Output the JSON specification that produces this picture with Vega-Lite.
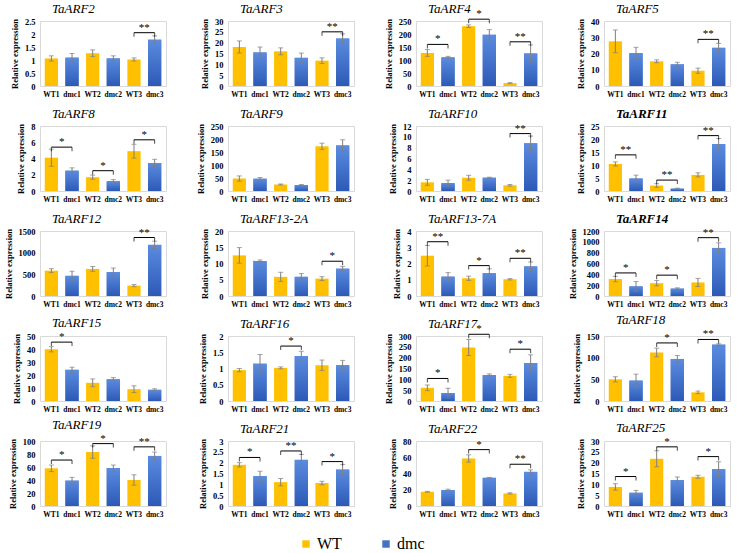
{
"$schema":"https://vega.github.io/schema/vega-lite/v6.json",
"padding":{"left":3,"top":2,"right":0,"bottom":0},
"columns":4,
"spacing":{"row":40,"column":62},
"bounds":"flush",
"data":{"values":[
{"g":"TaARF2","t":"b","s":"WT1","grp":"WT","v":1.06,"e":0.1},{"g":"TaARF2","t":"b","s":"dmc1","grp":"dmc","v":1.09,"e":0.16},{"g":"TaARF2","t":"b","s":"WT2","grp":"WT","v":1.26,"e":0.13},{"g":"TaARF2","t":"b","s":"dmc2","grp":"dmc","v":1.06,"e":0.1},{"g":"TaARF2","t":"b","s":"WT3","grp":"WT","v":1.02,"e":0.06},{"g":"TaARF2","t":"b","s":"dmc3","grp":"dmc","v":1.78,"e":0.15},
{"g":"TaARF2","t":"s","s":"WT3","s2":"dmc3","v":2.05,"lab":"**"},
{"g":"TaARF3","t":"b","s":"WT1","grp":"WT","v":18.0,"e":2.8},{"g":"TaARF3","t":"b","s":"dmc1","grp":"dmc","v":15.5,"e":2.5},{"g":"TaARF3","t":"b","s":"WT2","grp":"WT","v":16.0,"e":1.6},{"g":"TaARF3","t":"b","s":"dmc2","grp":"dmc","v":13.0,"e":2.2},{"g":"TaARF3","t":"b","s":"WT3","grp":"WT","v":11.7,"e":1.3},{"g":"TaARF3","t":"b","s":"dmc3","grp":"dmc","v":21.9,"e":2.2},
{"g":"TaARF3","t":"s","s":"WT3","s2":"dmc3","v":25,"lab":"**"},
{"g":"TaARF4","t":"b","s":"WT1","grp":"WT","v":127,"e":13},{"g":"TaARF4","t":"b","s":"dmc1","grp":"dmc","v":110,"e":4},{"g":"TaARF4","t":"b","s":"WT2","grp":"WT","v":230,"e":5},{"g":"TaARF4","t":"b","s":"dmc2","grp":"dmc","v":197,"e":20},{"g":"TaARF4","t":"b","s":"WT3","grp":"WT","v":11,"e":2},{"g":"TaARF4","t":"b","s":"dmc3","grp":"dmc","v":125,"e":33},
{"g":"TaARF4","t":"s","s":"WT1","s2":"dmc1","v":160,"lab":"*"},{"g":"TaARF4","t":"s","s":"WT2","s2":"dmc2","v":257,"lab":"*"},{"g":"TaARF4","t":"s","s":"WT3","s2":"dmc3","v":170,"lab":"**"},
{"g":"TaARF5","t":"b","s":"WT1","grp":"WT","v":27.5,"e":7},{"g":"TaARF5","t":"b","s":"dmc1","grp":"dmc","v":20.2,"e":3.6},{"g":"TaARF5","t":"b","s":"WT2","grp":"WT","v":15.2,"e":0.9},{"g":"TaARF5","t":"b","s":"dmc2","grp":"dmc","v":13.3,"e":1.3},{"g":"TaARF5","t":"b","s":"WT3","grp":"WT","v":9.4,"e":1.6},{"g":"TaARF5","t":"b","s":"dmc3","grp":"dmc","v":23.5,"e":2.7},
{"g":"TaARF5","t":"s","s":"WT3","s2":"dmc3","v":28.7,"lab":"**"},
{"g":"TaARF8","t":"b","s":"WT1","grp":"WT","v":4.1,"e":1.05},{"g":"TaARF8","t":"b","s":"dmc1","grp":"dmc","v":2.5,"e":0.35},{"g":"TaARF8","t":"b","s":"WT2","grp":"WT","v":1.7,"e":0.25},{"g":"TaARF8","t":"b","s":"dmc2","grp":"dmc","v":1.2,"e":0.2},{"g":"TaARF8","t":"b","s":"WT3","grp":"WT","v":4.9,"e":0.85},{"g":"TaARF8","t":"b","s":"dmc3","grp":"dmc","v":3.45,"e":0.45},
{"g":"TaARF8","t":"s","s":"WT1","s2":"dmc1","v":5.4,"lab":"*"},{"g":"TaARF8","t":"s","s":"WT2","s2":"dmc2","v":2.5,"lab":"*"},{"g":"TaARF8","t":"s","s":"WT3","s2":"dmc3","v":6.3,"lab":"*"},
{"g":"TaARF9","t":"b","s":"WT1","grp":"WT","v":48,"e":10},{"g":"TaARF9","t":"b","s":"dmc1","grp":"dmc","v":47,"e":5},{"g":"TaARF9","t":"b","s":"WT2","grp":"WT","v":25,"e":2},{"g":"TaARF9","t":"b","s":"dmc2","grp":"dmc","v":23,"e":2},{"g":"TaARF9","t":"b","s":"WT3","grp":"WT","v":172,"e":12},{"g":"TaARF9","t":"b","s":"dmc3","grp":"dmc","v":175,"e":22},
{"g":"TaARF10","t":"b","s":"WT1","grp":"WT","v":1.6,"e":0.55},{"g":"TaARF10","t":"b","s":"dmc1","grp":"dmc","v":1.45,"e":0.55},{"g":"TaARF10","t":"b","s":"WT2","grp":"WT","v":2.45,"e":0.45},{"g":"TaARF10","t":"b","s":"dmc2","grp":"dmc","v":2.45,"e":0.1},{"g":"TaARF10","t":"b","s":"WT3","grp":"WT","v":1.05,"e":0.15},{"g":"TaARF10","t":"b","s":"dmc3","grp":"dmc","v":8.8,"e":1.35},
{"g":"TaARF10","t":"s","s":"WT3","s2":"dmc3","v":10.6,"lab":"**"},
{"g":"TaARF11","t":"b","s":"WT1","grp":"WT","v":10.4,"e":0.8},{"g":"TaARF11","t":"b","s":"dmc1","grp":"dmc","v":4.8,"e":1.3},{"g":"TaARF11","t":"b","s":"WT2","grp":"WT","v":2.1,"e":0.7},{"g":"TaARF11","t":"b","s":"dmc2","grp":"dmc","v":0.9,"e":0.2},{"g":"TaARF11","t":"b","s":"WT3","grp":"WT","v":6.2,"e":0.8},{"g":"TaARF11","t":"b","s":"dmc3","grp":"dmc","v":18.0,"e":2.2},
{"g":"TaARF11","t":"s","s":"WT1","s2":"dmc1","v":13.9,"lab":"**"},{"g":"TaARF11","t":"s","s":"WT2","s2":"dmc2","v":4.2,"lab":"**"},{"g":"TaARF11","t":"s","s":"WT3","s2":"dmc3","v":21.3,"lab":"**"},
{"g":"TaARF12","t":"b","s":"WT1","grp":"WT","v":585,"e":45},{"g":"TaARF12","t":"b","s":"dmc1","grp":"dmc","v":465,"e":105},{"g":"TaARF12","t":"b","s":"WT2","grp":"WT","v":625,"e":55},{"g":"TaARF12","t":"b","s":"dmc2","grp":"dmc","v":550,"e":95},{"g":"TaARF12","t":"b","s":"WT3","grp":"WT","v":240,"e":25},{"g":"TaARF12","t":"b","s":"dmc3","grp":"dmc","v":1180,"e":85},
{"g":"TaARF12","t":"s","s":"WT3","s2":"dmc3","v":1350,"lab":"**"},
{"g":"TaARF13-2A","t":"b","s":"WT1","grp":"WT","v":12.5,"e":2.4},{"g":"TaARF13-2A","t":"b","s":"dmc1","grp":"dmc","v":10.8,"e":0.3},{"g":"TaARF13-2A","t":"b","s":"WT2","grp":"WT","v":5.9,"e":1.4},{"g":"TaARF13-2A","t":"b","s":"dmc2","grp":"dmc","v":5.9,"e":1.0},{"g":"TaARF13-2A","t":"b","s":"WT3","grp":"WT","v":5.35,"e":0.6},{"g":"TaARF13-2A","t":"b","s":"dmc3","grp":"dmc","v":8.4,"e":0.7},
{"g":"TaARF13-2A","t":"s","s":"WT3","s2":"dmc3","v":10.7,"lab":"*"},
{"g":"TaARF13-7A","t":"b","s":"WT1","grp":"WT","v":2.48,"e":0.63},{"g":"TaARF13-7A","t":"b","s":"dmc1","grp":"dmc","v":1.19,"e":0.25},{"g":"TaARF13-7A","t":"b","s":"WT2","grp":"WT","v":1.09,"e":0.13},{"g":"TaARF13-7A","t":"b","s":"dmc2","grp":"dmc","v":1.4,"e":0.27},{"g":"TaARF13-7A","t":"b","s":"WT3","grp":"WT","v":1.03,"e":0.04},{"g":"TaARF13-7A","t":"b","s":"dmc3","grp":"dmc","v":1.82,"e":0.27},
{"g":"TaARF13-7A","t":"s","s":"WT1","s2":"dmc1","v":3.34,"lab":"**"},{"g":"TaARF13-7A","t":"s","s":"WT2","s2":"dmc2","v":1.87,"lab":"*"},{"g":"TaARF13-7A","t":"s","s":"WT3","s2":"dmc3","v":2.32,"lab":"**"},
{"g":"TaARF14","t":"b","s":"WT1","grp":"WT","v":313,"e":50},{"g":"TaARF14","t":"b","s":"dmc1","grp":"dmc","v":177,"e":90},{"g":"TaARF14","t":"b","s":"WT2","grp":"WT","v":237,"e":50},{"g":"TaARF14","t":"b","s":"dmc2","grp":"dmc","v":136,"e":15},{"g":"TaARF14","t":"b","s":"WT3","grp":"WT","v":250,"e":75},{"g":"TaARF14","t":"b","s":"dmc3","grp":"dmc","v":887,"e":95},
{"g":"TaARF14","t":"s","s":"WT1","s2":"dmc1","v":426,"lab":"*"},{"g":"TaARF14","t":"s","s":"WT2","s2":"dmc2","v":385,"lab":"*"},{"g":"TaARF14","t":"s","s":"WT3","s2":"dmc3","v":1077,"lab":"**"},
{"g":"TaARF15","t":"b","s":"WT1","grp":"WT","v":39.8,"e":2},{"g":"TaARF15","t":"b","s":"dmc1","grp":"dmc","v":24,"e":2},{"g":"TaARF15","t":"b","s":"WT2","grp":"WT","v":14,"e":3},{"g":"TaARF15","t":"b","s":"dmc2","grp":"dmc","v":16.7,"e":1.3},{"g":"TaARF15","t":"b","s":"WT3","grp":"WT","v":9.1,"e":2.6},{"g":"TaARF15","t":"b","s":"dmc3","grp":"dmc","v":8.6,"e":0.8},
{"g":"TaARF15","t":"s","s":"WT1","s2":"dmc1","v":45.3,"lab":"*"},
{"g":"TaARF16","t":"b","s":"WT1","grp":"WT","v":0.95,"e":0.05},{"g":"TaARF16","t":"b","s":"dmc1","grp":"dmc","v":1.15,"e":0.28},{"g":"TaARF16","t":"b","s":"WT2","grp":"WT","v":1.02,"e":0.03},{"g":"TaARF16","t":"b","s":"dmc2","grp":"dmc","v":1.38,"e":0.15},{"g":"TaARF16","t":"b","s":"WT3","grp":"WT","v":1.1,"e":0.16},{"g":"TaARF16","t":"b","s":"dmc3","grp":"dmc","v":1.1,"e":0.15},
{"g":"TaARF16","t":"s","s":"WT2","s2":"dmc2","v":1.69,"lab":"*"},
{"g":"TaARF17","t":"b","s":"WT1","grp":"WT","v":61,"e":13},{"g":"TaARF17","t":"b","s":"dmc1","grp":"dmc","v":37,"e":22},{"g":"TaARF17","t":"b","s":"WT2","grp":"WT","v":247,"e":37},{"g":"TaARF17","t":"b","s":"dmc2","grp":"dmc","v":120,"e":5},{"g":"TaARF17","t":"b","s":"WT3","grp":"WT","v":116,"e":7},{"g":"TaARF17","t":"b","s":"dmc3","grp":"dmc","v":175,"e":38},
{"g":"TaARF17","t":"s","s":"WT1","s2":"dmc1","v":104,"lab":"*"},{"g":"TaARF17","t":"s","s":"WT2","s2":"dmc2","v":308,"lab":"*"},{"g":"TaARF17","t":"s","s":"WT3","s2":"dmc3","v":239,"lab":"*"},
{"g":"TaARF18","t":"b","s":"WT1","grp":"WT","v":50,"e":6},{"g":"TaARF18","t":"b","s":"dmc1","grp":"dmc","v":47,"e":15},{"g":"TaARF18","t":"b","s":"WT2","grp":"WT","v":112,"e":10},{"g":"TaARF18","t":"b","s":"dmc2","grp":"dmc","v":97,"e":8},{"g":"TaARF18","t":"b","s":"WT3","grp":"WT","v":20,"e":3},{"g":"TaARF18","t":"b","s":"dmc3","grp":"dmc","v":130,"e":2},
{"g":"TaARF18","t":"s","s":"WT2","s2":"dmc2","v":134,"lab":"*"},{"g":"TaARF18","t":"s","s":"WT3","s2":"dmc3","v":142,"lab":"**"},
{"g":"TaARF19","t":"b","s":"WT1","grp":"WT","v":58,"e":5},{"g":"TaARF19","t":"b","s":"dmc1","grp":"dmc","v":39,"e":5},{"g":"TaARF19","t":"b","s":"WT2","grp":"WT","v":83,"e":9.5},{"g":"TaARF19","t":"b","s":"dmc2","grp":"dmc","v":58.5,"e":4.5},{"g":"TaARF19","t":"b","s":"WT3","grp":"WT","v":40,"e":8},{"g":"TaARF19","t":"b","s":"dmc3","grp":"dmc","v":77,"e":6},
{"g":"TaARF19","t":"s","s":"WT1","s2":"dmc1","v":70.7,"lab":"*"},{"g":"TaARF19","t":"s","s":"WT2","s2":"dmc2","v":96,"lab":"*"},{"g":"TaARF19","t":"s","s":"WT3","s2":"dmc3","v":91,"lab":"**"},
{"g":"TaARF21","t":"b","s":"WT1","grp":"WT","v":1.9,"e":0.1},{"g":"TaARF21","t":"b","s":"dmc1","grp":"dmc","v":1.38,"e":0.22},{"g":"TaARF21","t":"b","s":"WT2","grp":"WT","v":1.1,"e":0.17},{"g":"TaARF21","t":"b","s":"dmc2","grp":"dmc","v":2.13,"e":0.25},{"g":"TaARF21","t":"b","s":"WT3","grp":"WT","v":1.06,"e":0.08},{"g":"TaARF21","t":"b","s":"dmc3","grp":"dmc","v":1.68,"e":0.24},
{"g":"TaARF21","t":"s","s":"WT1","s2":"dmc1","v":2.24,"lab":"*"},{"g":"TaARF21","t":"s","s":"WT2","s2":"dmc2","v":2.54,"lab":"**"},{"g":"TaARF21","t":"s","s":"WT3","s2":"dmc3","v":2.05,"lab":"*"},
{"g":"TaARF22","t":"b","s":"WT1","grp":"WT","v":17.5,"e":0.5},{"g":"TaARF22","t":"b","s":"dmc1","grp":"dmc","v":19.7,"e":1},{"g":"TaARF22","t":"b","s":"WT2","grp":"WT","v":58.5,"e":4.5},{"g":"TaARF22","t":"b","s":"dmc2","grp":"dmc","v":34.7,"e":0.5},{"g":"TaARF22","t":"b","s":"WT3","grp":"WT","v":15.5,"e":0.8},{"g":"TaARF22","t":"b","s":"dmc3","grp":"dmc","v":42,"e":2.5},
{"g":"TaARF22","t":"s","s":"WT2","s2":"dmc2","v":69.4,"lab":"*"},{"g":"TaARF22","t":"s","s":"WT3","s2":"dmc3","v":51.4,"lab":"**"},
{"g":"TaARF25","t":"b","s":"WT1","grp":"WT","v":8.8,"e":1.5},{"g":"TaARF25","t":"b","s":"dmc1","grp":"dmc","v":6.1,"e":1.1},{"g":"TaARF25","t":"b","s":"WT2","grp":"WT","v":21.8,"e":3.7},{"g":"TaARF25","t":"b","s":"dmc2","grp":"dmc","v":12,"e":1.4},{"g":"TaARF25","t":"b","s":"WT3","grp":"WT","v":13.5,"e":0.7},{"g":"TaARF25","t":"b","s":"dmc3","grp":"dmc","v":17,"e":3.4},
{"g":"TaARF25","t":"s","s":"WT1","s2":"dmc1","v":13.6,"lab":"*"},{"g":"TaARF25","t":"s","s":"WT2","s2":"dmc2","v":27.3,"lab":"*"},{"g":"TaARF25","t":"s","s":"WT3","s2":"dmc3","v":22.8,"lab":"*"}
]},
"concat":[
{"title":{"text":"TaARF2"},"transform":[{"filter":"datum.g=='TaARF2'"}],"encoding":{"x":{"field":"s","type":"nominal","scale":{"domain":["WT1","dmc1","WT2","dmc2","WT3","dmc3"],"paddingInner":0,"paddingOuter":0.05},"axis":{"title":null}},"y":{"field":"v","type":"quantitative","scale":{"domain":[0,2.5],"nice":false},"axis":{"title":"Relative expression","values":[0,0.5,1,1.5,2,2.5]}}},
"layer":[{"transform":[{"filter":"datum.t=='b'"}],"mark":{"type":"bar","width":{"band":0.64}},"encoding":{"color":{"field":"grp","type":"nominal","scale":{"domain":["WT","dmc"],"range":["#FFC000","#4472C4"]},"title":null}}},{"transform":[{"filter":"datum.grp=='dmc'"}],"mark":{"type":"bar","width":{"band":0.64},"color":{"gradient":"linear","x1":0,"y1":0,"x2":0,"y2":1,"stops":[{"offset":0,"color":"#5B8CE0"},{"offset":1,"color":"#2C59B6"}]}}},{"transform":[{"filter":"datum.t=='b'"}],"mark":{"type":"errorbar","color":"#7F7F7F","ticks":{"size":5,"color":"#7F7F7F"}},"encoding":{"yError":{"field":"e"}}},{"transform":[{"filter":"datum.t=='s'"}],"mark":{"type":"rule","color":"#000"},"encoding":{"x2":{"field":"s2"}}},{"transform":[{"filter":"datum.t=='s'"},{"fold":["s","s2"],"as":["k","sx"]}],"mark":{"type":"tick","orient":"vertical","size":4,"thickness":1,"yOffset":2,"color":"#000"},"encoding":{"x":{"field":"sx","type":"nominal"}}},{"transform":[{"filter":"datum.t=='s'"}],"mark":{"type":"text","dy":-5,"fontSize":11,"font":"Liberation Serif","fill":"#000","color":"#000"},"encoding":{"x":{"field":"s","type":"nominal","bandPosition":1},"text":{"field":"lab"}}}]},
{"title":{"text":"TaARF3"},"transform":[{"filter":"datum.g=='TaARF3'"}],"encoding":{"x":{"field":"s","type":"nominal","scale":{"domain":["WT1","dmc1","WT2","dmc2","WT3","dmc3"],"paddingInner":0,"paddingOuter":0.05},"axis":{"title":null}},"y":{"field":"v","type":"quantitative","scale":{"domain":[0,30],"nice":false},"axis":{"title":"Relative expression","values":[0,5,10,15,20,25,30]}}},
"layer":[{"transform":[{"filter":"datum.t=='b'"}],"mark":{"type":"bar","width":{"band":0.64}},"encoding":{"color":{"field":"grp","type":"nominal","scale":{"domain":["WT","dmc"],"range":["#FFC000","#4472C4"]},"title":null}}},{"transform":[{"filter":"datum.grp=='dmc'"}],"mark":{"type":"bar","width":{"band":0.64},"color":{"gradient":"linear","x1":0,"y1":0,"x2":0,"y2":1,"stops":[{"offset":0,"color":"#5B8CE0"},{"offset":1,"color":"#2C59B6"}]}}},{"transform":[{"filter":"datum.t=='b'"}],"mark":{"type":"errorbar","color":"#7F7F7F","ticks":{"size":5,"color":"#7F7F7F"}},"encoding":{"yError":{"field":"e"}}},{"transform":[{"filter":"datum.t=='s'"}],"mark":{"type":"rule","color":"#000"},"encoding":{"x2":{"field":"s2"}}},{"transform":[{"filter":"datum.t=='s'"},{"fold":["s","s2"],"as":["k","sx"]}],"mark":{"type":"tick","orient":"vertical","size":4,"thickness":1,"yOffset":2,"color":"#000"},"encoding":{"x":{"field":"sx","type":"nominal"}}},{"transform":[{"filter":"datum.t=='s'"}],"mark":{"type":"text","dy":-5,"fontSize":11,"font":"Liberation Serif","fill":"#000","color":"#000"},"encoding":{"x":{"field":"s","type":"nominal","bandPosition":1},"text":{"field":"lab"}}}]},
{"title":{"text":"TaARF4","offset":-8},"transform":[{"filter":"datum.g=='TaARF4'"}],"encoding":{"x":{"field":"s","type":"nominal","scale":{"domain":["WT1","dmc1","WT2","dmc2","WT3","dmc3"],"paddingInner":0,"paddingOuter":0.05},"axis":{"title":null}},"y":{"field":"v","type":"quantitative","scale":{"domain":[0,250],"nice":false},"axis":{"title":"Relative expression","values":[0,50,100,150,200,250]}}},
"layer":[{"transform":[{"filter":"datum.t=='b'"}],"mark":{"type":"bar","width":{"band":0.64}},"encoding":{"color":{"field":"grp","type":"nominal","scale":{"domain":["WT","dmc"],"range":["#FFC000","#4472C4"]},"title":null}}},{"transform":[{"filter":"datum.grp=='dmc'"}],"mark":{"type":"bar","width":{"band":0.64},"color":{"gradient":"linear","x1":0,"y1":0,"x2":0,"y2":1,"stops":[{"offset":0,"color":"#5B8CE0"},{"offset":1,"color":"#2C59B6"}]}}},{"transform":[{"filter":"datum.t=='b'"}],"mark":{"type":"errorbar","color":"#7F7F7F","ticks":{"size":5,"color":"#7F7F7F"}},"encoding":{"yError":{"field":"e"}}},{"transform":[{"filter":"datum.t=='s'"}],"mark":{"type":"rule","color":"#000"},"encoding":{"x2":{"field":"s2"}}},{"transform":[{"filter":"datum.t=='s'"},{"fold":["s","s2"],"as":["k","sx"]}],"mark":{"type":"tick","orient":"vertical","size":4,"thickness":1,"yOffset":2,"color":"#000"},"encoding":{"x":{"field":"sx","type":"nominal"}}},{"transform":[{"filter":"datum.t=='s'"}],"mark":{"type":"text","dy":-5,"fontSize":11,"font":"Liberation Serif","fill":"#000","color":"#000"},"encoding":{"x":{"field":"s","type":"nominal","bandPosition":1},"text":{"field":"lab"}}}]},
{"title":{"text":"TaARF5"},"transform":[{"filter":"datum.g=='TaARF5'"}],"encoding":{"x":{"field":"s","type":"nominal","scale":{"domain":["WT1","dmc1","WT2","dmc2","WT3","dmc3"],"paddingInner":0,"paddingOuter":0.05},"axis":{"title":null}},"y":{"field":"v","type":"quantitative","scale":{"domain":[0,40],"nice":false},"axis":{"title":"Relative expression","values":[0,10,20,30,40]}}},
"layer":[{"transform":[{"filter":"datum.t=='b'"}],"mark":{"type":"bar","width":{"band":0.64}},"encoding":{"color":{"field":"grp","type":"nominal","scale":{"domain":["WT","dmc"],"range":["#FFC000","#4472C4"]},"title":null}}},{"transform":[{"filter":"datum.grp=='dmc'"}],"mark":{"type":"bar","width":{"band":0.64},"color":{"gradient":"linear","x1":0,"y1":0,"x2":0,"y2":1,"stops":[{"offset":0,"color":"#5B8CE0"},{"offset":1,"color":"#2C59B6"}]}}},{"transform":[{"filter":"datum.t=='b'"}],"mark":{"type":"errorbar","color":"#7F7F7F","ticks":{"size":5,"color":"#7F7F7F"}},"encoding":{"yError":{"field":"e"}}},{"transform":[{"filter":"datum.t=='s'"}],"mark":{"type":"rule","color":"#000"},"encoding":{"x2":{"field":"s2"}}},{"transform":[{"filter":"datum.t=='s'"},{"fold":["s","s2"],"as":["k","sx"]}],"mark":{"type":"tick","orient":"vertical","size":4,"thickness":1,"yOffset":2,"color":"#000"},"encoding":{"x":{"field":"sx","type":"nominal"}}},{"transform":[{"filter":"datum.t=='s'"}],"mark":{"type":"text","dy":-5,"fontSize":11,"font":"Liberation Serif","fill":"#000","color":"#000"},"encoding":{"x":{"field":"s","type":"nominal","bandPosition":1},"text":{"field":"lab"}}}]},
{"title":{"text":"TaARF8"},"transform":[{"filter":"datum.g=='TaARF8'"}],"encoding":{"x":{"field":"s","type":"nominal","scale":{"domain":["WT1","dmc1","WT2","dmc2","WT3","dmc3"],"paddingInner":0,"paddingOuter":0.05},"axis":{"title":null}},"y":{"field":"v","type":"quantitative","scale":{"domain":[0,8],"nice":false},"axis":{"title":"Relative expression","values":[0,2,4,6,8]}}},
"layer":[{"transform":[{"filter":"datum.t=='b'"}],"mark":{"type":"bar","width":{"band":0.64}},"encoding":{"color":{"field":"grp","type":"nominal","scale":{"domain":["WT","dmc"],"range":["#FFC000","#4472C4"]},"title":null}}},{"transform":[{"filter":"datum.grp=='dmc'"}],"mark":{"type":"bar","width":{"band":0.64},"color":{"gradient":"linear","x1":0,"y1":0,"x2":0,"y2":1,"stops":[{"offset":0,"color":"#5B8CE0"},{"offset":1,"color":"#2C59B6"}]}}},{"transform":[{"filter":"datum.t=='b'"}],"mark":{"type":"errorbar","color":"#7F7F7F","ticks":{"size":5,"color":"#7F7F7F"}},"encoding":{"yError":{"field":"e"}}},{"transform":[{"filter":"datum.t=='s'"}],"mark":{"type":"rule","color":"#000"},"encoding":{"x2":{"field":"s2"}}},{"transform":[{"filter":"datum.t=='s'"},{"fold":["s","s2"],"as":["k","sx"]}],"mark":{"type":"tick","orient":"vertical","size":4,"thickness":1,"yOffset":2,"color":"#000"},"encoding":{"x":{"field":"sx","type":"nominal"}}},{"transform":[{"filter":"datum.t=='s'"}],"mark":{"type":"text","dy":-5,"fontSize":11,"font":"Liberation Serif","fill":"#000","color":"#000"},"encoding":{"x":{"field":"s","type":"nominal","bandPosition":1},"text":{"field":"lab"}}}]},
{"title":{"text":"TaARF9"},"transform":[{"filter":"datum.g=='TaARF9'"}],"encoding":{"x":{"field":"s","type":"nominal","scale":{"domain":["WT1","dmc1","WT2","dmc2","WT3","dmc3"],"paddingInner":0,"paddingOuter":0.05},"axis":{"title":null}},"y":{"field":"v","type":"quantitative","scale":{"domain":[0,250],"nice":false},"axis":{"title":"Relative expression","values":[0,50,100,150,200,250]}}},
"layer":[{"transform":[{"filter":"datum.t=='b'"}],"mark":{"type":"bar","width":{"band":0.64}},"encoding":{"color":{"field":"grp","type":"nominal","scale":{"domain":["WT","dmc"],"range":["#FFC000","#4472C4"]},"title":null}}},{"transform":[{"filter":"datum.grp=='dmc'"}],"mark":{"type":"bar","width":{"band":0.64},"color":{"gradient":"linear","x1":0,"y1":0,"x2":0,"y2":1,"stops":[{"offset":0,"color":"#5B8CE0"},{"offset":1,"color":"#2C59B6"}]}}},{"transform":[{"filter":"datum.t=='b'"}],"mark":{"type":"errorbar","color":"#7F7F7F","ticks":{"size":5,"color":"#7F7F7F"}},"encoding":{"yError":{"field":"e"}}}]},
{"title":{"text":"TaARF10"},"transform":[{"filter":"datum.g=='TaARF10'"}],"encoding":{"x":{"field":"s","type":"nominal","scale":{"domain":["WT1","dmc1","WT2","dmc2","WT3","dmc3"],"paddingInner":0,"paddingOuter":0.05},"axis":{"title":null}},"y":{"field":"v","type":"quantitative","scale":{"domain":[0,12],"nice":false},"axis":{"title":"Relative expression","values":[0,2,4,6,8,10,12]}}},
"layer":[{"transform":[{"filter":"datum.t=='b'"}],"mark":{"type":"bar","width":{"band":0.64}},"encoding":{"color":{"field":"grp","type":"nominal","scale":{"domain":["WT","dmc"],"range":["#FFC000","#4472C4"]},"title":null}}},{"transform":[{"filter":"datum.grp=='dmc'"}],"mark":{"type":"bar","width":{"band":0.64},"color":{"gradient":"linear","x1":0,"y1":0,"x2":0,"y2":1,"stops":[{"offset":0,"color":"#5B8CE0"},{"offset":1,"color":"#2C59B6"}]}}},{"transform":[{"filter":"datum.t=='b'"}],"mark":{"type":"errorbar","color":"#7F7F7F","ticks":{"size":5,"color":"#7F7F7F"}},"encoding":{"yError":{"field":"e"}}},{"transform":[{"filter":"datum.t=='s'"}],"mark":{"type":"rule","color":"#000"},"encoding":{"x2":{"field":"s2"}}},{"transform":[{"filter":"datum.t=='s'"},{"fold":["s","s2"],"as":["k","sx"]}],"mark":{"type":"tick","orient":"vertical","size":4,"thickness":1,"yOffset":2,"color":"#000"},"encoding":{"x":{"field":"sx","type":"nominal"}}},{"transform":[{"filter":"datum.t=='s'"}],"mark":{"type":"text","dy":-5,"fontSize":11,"font":"Liberation Serif","fill":"#000","color":"#000"},"encoding":{"x":{"field":"s","type":"nominal","bandPosition":1},"text":{"field":"lab"}}}]},
{"title":{"text":"TaARF11","fontWeight":"bold"},"transform":[{"filter":"datum.g=='TaARF11'"}],"encoding":{"x":{"field":"s","type":"nominal","scale":{"domain":["WT1","dmc1","WT2","dmc2","WT3","dmc3"],"paddingInner":0,"paddingOuter":0.05},"axis":{"title":null}},"y":{"field":"v","type":"quantitative","scale":{"domain":[0,25],"nice":false},"axis":{"title":"Relative expression","values":[0,5,10,15,20,25]}}},
"layer":[{"transform":[{"filter":"datum.t=='b'"}],"mark":{"type":"bar","width":{"band":0.64}},"encoding":{"color":{"field":"grp","type":"nominal","scale":{"domain":["WT","dmc"],"range":["#FFC000","#4472C4"]},"title":null}}},{"transform":[{"filter":"datum.grp=='dmc'"}],"mark":{"type":"bar","width":{"band":0.64},"color":{"gradient":"linear","x1":0,"y1":0,"x2":0,"y2":1,"stops":[{"offset":0,"color":"#5B8CE0"},{"offset":1,"color":"#2C59B6"}]}}},{"transform":[{"filter":"datum.t=='b'"}],"mark":{"type":"errorbar","color":"#7F7F7F","ticks":{"size":5,"color":"#7F7F7F"}},"encoding":{"yError":{"field":"e"}}},{"transform":[{"filter":"datum.t=='s'"}],"mark":{"type":"rule","color":"#000"},"encoding":{"x2":{"field":"s2"}}},{"transform":[{"filter":"datum.t=='s'"},{"fold":["s","s2"],"as":["k","sx"]}],"mark":{"type":"tick","orient":"vertical","size":4,"thickness":1,"yOffset":2,"color":"#000"},"encoding":{"x":{"field":"sx","type":"nominal"}}},{"transform":[{"filter":"datum.t=='s'"}],"mark":{"type":"text","dy":-5,"fontSize":11,"font":"Liberation Serif","fill":"#000","color":"#000"},"encoding":{"x":{"field":"s","type":"nominal","bandPosition":1},"text":{"field":"lab"}}}]},
{"title":{"text":"TaARF12"},"transform":[{"filter":"datum.g=='TaARF12'"}],"encoding":{"x":{"field":"s","type":"nominal","scale":{"domain":["WT1","dmc1","WT2","dmc2","WT3","dmc3"],"paddingInner":0,"paddingOuter":0.05},"axis":{"title":null}},"y":{"field":"v","type":"quantitative","scale":{"domain":[0,1500],"nice":false},"axis":{"title":"Relative expression","values":[0,500,1000,1500]}}},
"layer":[{"transform":[{"filter":"datum.t=='b'"}],"mark":{"type":"bar","width":{"band":0.64}},"encoding":{"color":{"field":"grp","type":"nominal","scale":{"domain":["WT","dmc"],"range":["#FFC000","#4472C4"]},"title":null}}},{"transform":[{"filter":"datum.grp=='dmc'"}],"mark":{"type":"bar","width":{"band":0.64},"color":{"gradient":"linear","x1":0,"y1":0,"x2":0,"y2":1,"stops":[{"offset":0,"color":"#5B8CE0"},{"offset":1,"color":"#2C59B6"}]}}},{"transform":[{"filter":"datum.t=='b'"}],"mark":{"type":"errorbar","color":"#7F7F7F","ticks":{"size":5,"color":"#7F7F7F"}},"encoding":{"yError":{"field":"e"}}},{"transform":[{"filter":"datum.t=='s'"}],"mark":{"type":"rule","color":"#000"},"encoding":{"x2":{"field":"s2"}}},{"transform":[{"filter":"datum.t=='s'"},{"fold":["s","s2"],"as":["k","sx"]}],"mark":{"type":"tick","orient":"vertical","size":4,"thickness":1,"yOffset":2,"color":"#000"},"encoding":{"x":{"field":"sx","type":"nominal"}}},{"transform":[{"filter":"datum.t=='s'"}],"mark":{"type":"text","dy":-5,"fontSize":11,"font":"Liberation Serif","fill":"#000","color":"#000"},"encoding":{"x":{"field":"s","type":"nominal","bandPosition":1},"text":{"field":"lab"}}}]},
{"title":{"text":"TaARF13-2A"},"transform":[{"filter":"datum.g=='TaARF13-2A'"}],"encoding":{"x":{"field":"s","type":"nominal","scale":{"domain":["WT1","dmc1","WT2","dmc2","WT3","dmc3"],"paddingInner":0,"paddingOuter":0.05},"axis":{"title":null}},"y":{"field":"v","type":"quantitative","scale":{"domain":[0,20],"nice":false},"axis":{"title":"Relative expression","values":[0,5,10,15,20]}}},
"layer":[{"transform":[{"filter":"datum.t=='b'"}],"mark":{"type":"bar","width":{"band":0.64}},"encoding":{"color":{"field":"grp","type":"nominal","scale":{"domain":["WT","dmc"],"range":["#FFC000","#4472C4"]},"title":null}}},{"transform":[{"filter":"datum.grp=='dmc'"}],"mark":{"type":"bar","width":{"band":0.64},"color":{"gradient":"linear","x1":0,"y1":0,"x2":0,"y2":1,"stops":[{"offset":0,"color":"#5B8CE0"},{"offset":1,"color":"#2C59B6"}]}}},{"transform":[{"filter":"datum.t=='b'"}],"mark":{"type":"errorbar","color":"#7F7F7F","ticks":{"size":5,"color":"#7F7F7F"}},"encoding":{"yError":{"field":"e"}}},{"transform":[{"filter":"datum.t=='s'"}],"mark":{"type":"rule","color":"#000"},"encoding":{"x2":{"field":"s2"}}},{"transform":[{"filter":"datum.t=='s'"},{"fold":["s","s2"],"as":["k","sx"]}],"mark":{"type":"tick","orient":"vertical","size":4,"thickness":1,"yOffset":2,"color":"#000"},"encoding":{"x":{"field":"sx","type":"nominal"}}},{"transform":[{"filter":"datum.t=='s'"}],"mark":{"type":"text","dy":-5,"fontSize":11,"font":"Liberation Serif","fill":"#000","color":"#000"},"encoding":{"x":{"field":"s","type":"nominal","bandPosition":1},"text":{"field":"lab"}}}]},
{"title":{"text":"TaARF13-7A"},"transform":[{"filter":"datum.g=='TaARF13-7A'"}],"encoding":{"x":{"field":"s","type":"nominal","scale":{"domain":["WT1","dmc1","WT2","dmc2","WT3","dmc3"],"paddingInner":0,"paddingOuter":0.05},"axis":{"title":null}},"y":{"field":"v","type":"quantitative","scale":{"domain":[0,4],"nice":false},"axis":{"title":"Relative expression","values":[0,1,2,3,4]}}},
"layer":[{"transform":[{"filter":"datum.t=='b'"}],"mark":{"type":"bar","width":{"band":0.64}},"encoding":{"color":{"field":"grp","type":"nominal","scale":{"domain":["WT","dmc"],"range":["#FFC000","#4472C4"]},"title":null}}},{"transform":[{"filter":"datum.grp=='dmc'"}],"mark":{"type":"bar","width":{"band":0.64},"color":{"gradient":"linear","x1":0,"y1":0,"x2":0,"y2":1,"stops":[{"offset":0,"color":"#5B8CE0"},{"offset":1,"color":"#2C59B6"}]}}},{"transform":[{"filter":"datum.t=='b'"}],"mark":{"type":"errorbar","color":"#7F7F7F","ticks":{"size":5,"color":"#7F7F7F"}},"encoding":{"yError":{"field":"e"}}},{"transform":[{"filter":"datum.t=='s'"}],"mark":{"type":"rule","color":"#000"},"encoding":{"x2":{"field":"s2"}}},{"transform":[{"filter":"datum.t=='s'"},{"fold":["s","s2"],"as":["k","sx"]}],"mark":{"type":"tick","orient":"vertical","size":4,"thickness":1,"yOffset":2,"color":"#000"},"encoding":{"x":{"field":"sx","type":"nominal"}}},{"transform":[{"filter":"datum.t=='s'"}],"mark":{"type":"text","dy":-5,"fontSize":11,"font":"Liberation Serif","fill":"#000","color":"#000"},"encoding":{"x":{"field":"s","type":"nominal","bandPosition":1},"text":{"field":"lab"}}}]},
{"title":{"text":"TaARF14","fontWeight":"bold"},"transform":[{"filter":"datum.g=='TaARF14'"}],"encoding":{"x":{"field":"s","type":"nominal","scale":{"domain":["WT1","dmc1","WT2","dmc2","WT3","dmc3"],"paddingInner":0,"paddingOuter":0.05},"axis":{"title":null}},"y":{"field":"v","type":"quantitative","scale":{"domain":[0,1200],"nice":false},"axis":{"title":"Relative expression","values":[0,200,400,600,800,1000,1200]}}},
"layer":[{"transform":[{"filter":"datum.t=='b'"}],"mark":{"type":"bar","width":{"band":0.64}},"encoding":{"color":{"field":"grp","type":"nominal","scale":{"domain":["WT","dmc"],"range":["#FFC000","#4472C4"]},"title":null}}},{"transform":[{"filter":"datum.grp=='dmc'"}],"mark":{"type":"bar","width":{"band":0.64},"color":{"gradient":"linear","x1":0,"y1":0,"x2":0,"y2":1,"stops":[{"offset":0,"color":"#5B8CE0"},{"offset":1,"color":"#2C59B6"}]}}},{"transform":[{"filter":"datum.t=='b'"}],"mark":{"type":"errorbar","color":"#7F7F7F","ticks":{"size":5,"color":"#7F7F7F"}},"encoding":{"yError":{"field":"e"}}},{"transform":[{"filter":"datum.t=='s'"}],"mark":{"type":"rule","color":"#000"},"encoding":{"x2":{"field":"s2"}}},{"transform":[{"filter":"datum.t=='s'"},{"fold":["s","s2"],"as":["k","sx"]}],"mark":{"type":"tick","orient":"vertical","size":4,"thickness":1,"yOffset":2,"color":"#000"},"encoding":{"x":{"field":"sx","type":"nominal"}}},{"transform":[{"filter":"datum.t=='s'"}],"mark":{"type":"text","dy":-5,"fontSize":11,"font":"Liberation Serif","fill":"#000","color":"#000"},"encoding":{"x":{"field":"s","type":"nominal","bandPosition":1},"text":{"field":"lab"}}}]},
{"title":{"text":"TaARF15"},"transform":[{"filter":"datum.g=='TaARF15'"}],"encoding":{"x":{"field":"s","type":"nominal","scale":{"domain":["WT1","dmc1","WT2","dmc2","WT3","dmc3"],"paddingInner":0,"paddingOuter":0.05},"axis":{"title":null}},"y":{"field":"v","type":"quantitative","scale":{"domain":[0,50],"nice":false},"axis":{"title":"Relative expression","values":[0,10,20,30,40,50]}}},
"layer":[{"transform":[{"filter":"datum.t=='b'"}],"mark":{"type":"bar","width":{"band":0.64}},"encoding":{"color":{"field":"grp","type":"nominal","scale":{"domain":["WT","dmc"],"range":["#FFC000","#4472C4"]},"title":null}}},{"transform":[{"filter":"datum.grp=='dmc'"}],"mark":{"type":"bar","width":{"band":0.64},"color":{"gradient":"linear","x1":0,"y1":0,"x2":0,"y2":1,"stops":[{"offset":0,"color":"#5B8CE0"},{"offset":1,"color":"#2C59B6"}]}}},{"transform":[{"filter":"datum.t=='b'"}],"mark":{"type":"errorbar","color":"#7F7F7F","ticks":{"size":5,"color":"#7F7F7F"}},"encoding":{"yError":{"field":"e"}}},{"transform":[{"filter":"datum.t=='s'"}],"mark":{"type":"rule","color":"#000"},"encoding":{"x2":{"field":"s2"}}},{"transform":[{"filter":"datum.t=='s'"},{"fold":["s","s2"],"as":["k","sx"]}],"mark":{"type":"tick","orient":"vertical","size":4,"thickness":1,"yOffset":2,"color":"#000"},"encoding":{"x":{"field":"sx","type":"nominal"}}},{"transform":[{"filter":"datum.t=='s'"}],"mark":{"type":"text","dy":-5,"fontSize":11,"font":"Liberation Serif","fill":"#000","color":"#000"},"encoding":{"x":{"field":"s","type":"nominal","bandPosition":1},"text":{"field":"lab"}}}]},
{"title":{"text":"TaARF16"},"transform":[{"filter":"datum.g=='TaARF16'"}],"encoding":{"x":{"field":"s","type":"nominal","scale":{"domain":["WT1","dmc1","WT2","dmc2","WT3","dmc3"],"paddingInner":0,"paddingOuter":0.05},"axis":{"title":null}},"y":{"field":"v","type":"quantitative","scale":{"domain":[0,2],"nice":false},"axis":{"title":"Relative expression","values":[0,0.5,1,1.5,2]}}},
"layer":[{"transform":[{"filter":"datum.t=='b'"}],"mark":{"type":"bar","width":{"band":0.64}},"encoding":{"color":{"field":"grp","type":"nominal","scale":{"domain":["WT","dmc"],"range":["#FFC000","#4472C4"]},"title":null}}},{"transform":[{"filter":"datum.grp=='dmc'"}],"mark":{"type":"bar","width":{"band":0.64},"color":{"gradient":"linear","x1":0,"y1":0,"x2":0,"y2":1,"stops":[{"offset":0,"color":"#5B8CE0"},{"offset":1,"color":"#2C59B6"}]}}},{"transform":[{"filter":"datum.t=='b'"}],"mark":{"type":"errorbar","color":"#7F7F7F","ticks":{"size":5,"color":"#7F7F7F"}},"encoding":{"yError":{"field":"e"}}},{"transform":[{"filter":"datum.t=='s'"}],"mark":{"type":"rule","color":"#000"},"encoding":{"x2":{"field":"s2"}}},{"transform":[{"filter":"datum.t=='s'"},{"fold":["s","s2"],"as":["k","sx"]}],"mark":{"type":"tick","orient":"vertical","size":4,"thickness":1,"yOffset":2,"color":"#000"},"encoding":{"x":{"field":"sx","type":"nominal"}}},{"transform":[{"filter":"datum.t=='s'"}],"mark":{"type":"text","dy":-5,"fontSize":11,"font":"Liberation Serif","fill":"#000","color":"#000"},"encoding":{"x":{"field":"s","type":"nominal","bandPosition":1},"text":{"field":"lab"}}}]},
{"title":{"text":"TaARF17","offset":-8},"transform":[{"filter":"datum.g=='TaARF17'"}],"encoding":{"x":{"field":"s","type":"nominal","scale":{"domain":["WT1","dmc1","WT2","dmc2","WT3","dmc3"],"paddingInner":0,"paddingOuter":0.05},"axis":{"title":null}},"y":{"field":"v","type":"quantitative","scale":{"domain":[0,300],"nice":false},"axis":{"title":"Relative expression","values":[0,50,100,150,200,250,300]}}},
"layer":[{"transform":[{"filter":"datum.t=='b'"}],"mark":{"type":"bar","width":{"band":0.64}},"encoding":{"color":{"field":"grp","type":"nominal","scale":{"domain":["WT","dmc"],"range":["#FFC000","#4472C4"]},"title":null}}},{"transform":[{"filter":"datum.grp=='dmc'"}],"mark":{"type":"bar","width":{"band":0.64},"color":{"gradient":"linear","x1":0,"y1":0,"x2":0,"y2":1,"stops":[{"offset":0,"color":"#5B8CE0"},{"offset":1,"color":"#2C59B6"}]}}},{"transform":[{"filter":"datum.t=='b'"}],"mark":{"type":"errorbar","color":"#7F7F7F","ticks":{"size":5,"color":"#7F7F7F"}},"encoding":{"yError":{"field":"e"}}},{"transform":[{"filter":"datum.t=='s'"}],"mark":{"type":"rule","color":"#000"},"encoding":{"x2":{"field":"s2"}}},{"transform":[{"filter":"datum.t=='s'"},{"fold":["s","s2"],"as":["k","sx"]}],"mark":{"type":"tick","orient":"vertical","size":4,"thickness":1,"yOffset":2,"color":"#000"},"encoding":{"x":{"field":"sx","type":"nominal"}}},{"transform":[{"filter":"datum.t=='s'"}],"mark":{"type":"text","dy":-5,"fontSize":11,"font":"Liberation Serif","fill":"#000","color":"#000"},"encoding":{"x":{"field":"s","type":"nominal","bandPosition":1},"text":{"field":"lab"}}}]},
{"title":{"text":"TaARF18"},"transform":[{"filter":"datum.g=='TaARF18'"}],"encoding":{"x":{"field":"s","type":"nominal","scale":{"domain":["WT1","dmc1","WT2","dmc2","WT3","dmc3"],"paddingInner":0,"paddingOuter":0.05},"axis":{"title":null}},"y":{"field":"v","type":"quantitative","scale":{"domain":[0,150],"nice":false},"axis":{"title":"Relative expression","values":[0,50,100,150]}}},
"layer":[{"transform":[{"filter":"datum.t=='b'"}],"mark":{"type":"bar","width":{"band":0.64}},"encoding":{"color":{"field":"grp","type":"nominal","scale":{"domain":["WT","dmc"],"range":["#FFC000","#4472C4"]},"title":null}}},{"transform":[{"filter":"datum.grp=='dmc'"}],"mark":{"type":"bar","width":{"band":0.64},"color":{"gradient":"linear","x1":0,"y1":0,"x2":0,"y2":1,"stops":[{"offset":0,"color":"#5B8CE0"},{"offset":1,"color":"#2C59B6"}]}}},{"transform":[{"filter":"datum.t=='b'"}],"mark":{"type":"errorbar","color":"#7F7F7F","ticks":{"size":5,"color":"#7F7F7F"}},"encoding":{"yError":{"field":"e"}}},{"transform":[{"filter":"datum.t=='s'"}],"mark":{"type":"rule","color":"#000"},"encoding":{"x2":{"field":"s2"}}},{"transform":[{"filter":"datum.t=='s'"},{"fold":["s","s2"],"as":["k","sx"]}],"mark":{"type":"tick","orient":"vertical","size":4,"thickness":1,"yOffset":2,"color":"#000"},"encoding":{"x":{"field":"sx","type":"nominal"}}},{"transform":[{"filter":"datum.t=='s'"}],"mark":{"type":"text","dy":-5,"fontSize":11,"font":"Liberation Serif","fill":"#000","color":"#000"},"encoding":{"x":{"field":"s","type":"nominal","bandPosition":1},"text":{"field":"lab"}}}]},
{"title":{"text":"TaARF19"},"transform":[{"filter":"datum.g=='TaARF19'"}],"encoding":{"x":{"field":"s","type":"nominal","scale":{"domain":["WT1","dmc1","WT2","dmc2","WT3","dmc3"],"paddingInner":0,"paddingOuter":0.05},"axis":{"title":null}},"y":{"field":"v","type":"quantitative","scale":{"domain":[0,100],"nice":false},"axis":{"title":"Relative expression","values":[0,20,40,60,80,100]}}},
"layer":[{"transform":[{"filter":"datum.t=='b'"}],"mark":{"type":"bar","width":{"band":0.64}},"encoding":{"color":{"field":"grp","type":"nominal","scale":{"domain":["WT","dmc"],"range":["#FFC000","#4472C4"]},"title":null}}},{"transform":[{"filter":"datum.grp=='dmc'"}],"mark":{"type":"bar","width":{"band":0.64},"color":{"gradient":"linear","x1":0,"y1":0,"x2":0,"y2":1,"stops":[{"offset":0,"color":"#5B8CE0"},{"offset":1,"color":"#2C59B6"}]}}},{"transform":[{"filter":"datum.t=='b'"}],"mark":{"type":"errorbar","color":"#7F7F7F","ticks":{"size":5,"color":"#7F7F7F"}},"encoding":{"yError":{"field":"e"}}},{"transform":[{"filter":"datum.t=='s'"}],"mark":{"type":"rule","color":"#000"},"encoding":{"x2":{"field":"s2"}}},{"transform":[{"filter":"datum.t=='s'"},{"fold":["s","s2"],"as":["k","sx"]}],"mark":{"type":"tick","orient":"vertical","size":4,"thickness":1,"yOffset":2,"color":"#000"},"encoding":{"x":{"field":"sx","type":"nominal"}}},{"transform":[{"filter":"datum.t=='s'"}],"mark":{"type":"text","dy":-5,"fontSize":11,"font":"Liberation Serif","fill":"#000","color":"#000"},"encoding":{"x":{"field":"s","type":"nominal","bandPosition":1},"text":{"field":"lab"}}}]},
{"title":{"text":"TaARF21"},"transform":[{"filter":"datum.g=='TaARF21'"}],"encoding":{"x":{"field":"s","type":"nominal","scale":{"domain":["WT1","dmc1","WT2","dmc2","WT3","dmc3"],"paddingInner":0,"paddingOuter":0.05},"axis":{"title":null}},"y":{"field":"v","type":"quantitative","scale":{"domain":[0,3],"nice":false},"axis":{"title":"Relative expression","values":[0,0.5,1,1.5,2,2.5,3]}}},
"layer":[{"transform":[{"filter":"datum.t=='b'"}],"mark":{"type":"bar","width":{"band":0.64}},"encoding":{"color":{"field":"grp","type":"nominal","scale":{"domain":["WT","dmc"],"range":["#FFC000","#4472C4"]},"title":null}}},{"transform":[{"filter":"datum.grp=='dmc'"}],"mark":{"type":"bar","width":{"band":0.64},"color":{"gradient":"linear","x1":0,"y1":0,"x2":0,"y2":1,"stops":[{"offset":0,"color":"#5B8CE0"},{"offset":1,"color":"#2C59B6"}]}}},{"transform":[{"filter":"datum.t=='b'"}],"mark":{"type":"errorbar","color":"#7F7F7F","ticks":{"size":5,"color":"#7F7F7F"}},"encoding":{"yError":{"field":"e"}}},{"transform":[{"filter":"datum.t=='s'"}],"mark":{"type":"rule","color":"#000"},"encoding":{"x2":{"field":"s2"}}},{"transform":[{"filter":"datum.t=='s'"},{"fold":["s","s2"],"as":["k","sx"]}],"mark":{"type":"tick","orient":"vertical","size":4,"thickness":1,"yOffset":2,"color":"#000"},"encoding":{"x":{"field":"sx","type":"nominal"}}},{"transform":[{"filter":"datum.t=='s'"}],"mark":{"type":"text","dy":-5,"fontSize":11,"font":"Liberation Serif","fill":"#000","color":"#000"},"encoding":{"x":{"field":"s","type":"nominal","bandPosition":1},"text":{"field":"lab"}}}]},
{"title":{"text":"TaARF22"},"transform":[{"filter":"datum.g=='TaARF22'"}],"encoding":{"x":{"field":"s","type":"nominal","scale":{"domain":["WT1","dmc1","WT2","dmc2","WT3","dmc3"],"paddingInner":0,"paddingOuter":0.05},"axis":{"title":null}},"y":{"field":"v","type":"quantitative","scale":{"domain":[0,80],"nice":false},"axis":{"title":"Relative expression","values":[0,20,40,60,80]}}},
"layer":[{"transform":[{"filter":"datum.t=='b'"}],"mark":{"type":"bar","width":{"band":0.64}},"encoding":{"color":{"field":"grp","type":"nominal","scale":{"domain":["WT","dmc"],"range":["#FFC000","#4472C4"]},"title":null}}},{"transform":[{"filter":"datum.grp=='dmc'"}],"mark":{"type":"bar","width":{"band":0.64},"color":{"gradient":"linear","x1":0,"y1":0,"x2":0,"y2":1,"stops":[{"offset":0,"color":"#5B8CE0"},{"offset":1,"color":"#2C59B6"}]}}},{"transform":[{"filter":"datum.t=='b'"}],"mark":{"type":"errorbar","color":"#7F7F7F","ticks":{"size":5,"color":"#7F7F7F"}},"encoding":{"yError":{"field":"e"}}},{"transform":[{"filter":"datum.t=='s'"}],"mark":{"type":"rule","color":"#000"},"encoding":{"x2":{"field":"s2"}}},{"transform":[{"filter":"datum.t=='s'"},{"fold":["s","s2"],"as":["k","sx"]}],"mark":{"type":"tick","orient":"vertical","size":4,"thickness":1,"yOffset":2,"color":"#000"},"encoding":{"x":{"field":"sx","type":"nominal"}}},{"transform":[{"filter":"datum.t=='s'"}],"mark":{"type":"text","dy":-5,"fontSize":11,"font":"Liberation Serif","fill":"#000","color":"#000"},"encoding":{"x":{"field":"s","type":"nominal","bandPosition":1},"text":{"field":"lab"}}}]},
{"title":{"text":"TaARF25"},"transform":[{"filter":"datum.g=='TaARF25'"}],"encoding":{"x":{"field":"s","type":"nominal","scale":{"domain":["WT1","dmc1","WT2","dmc2","WT3","dmc3"],"paddingInner":0,"paddingOuter":0.05},"axis":{"title":null}},"y":{"field":"v","type":"quantitative","scale":{"domain":[0,30],"nice":false},"axis":{"title":"Relative expression","values":[0,5,10,15,20,25,30]}}},
"layer":[{"transform":[{"filter":"datum.t=='b'"}],"mark":{"type":"bar","width":{"band":0.64}},"encoding":{"color":{"field":"grp","type":"nominal","scale":{"domain":["WT","dmc"],"range":["#FFC000","#4472C4"]},"title":null}}},{"transform":[{"filter":"datum.grp=='dmc'"}],"mark":{"type":"bar","width":{"band":0.64},"color":{"gradient":"linear","x1":0,"y1":0,"x2":0,"y2":1,"stops":[{"offset":0,"color":"#5B8CE0"},{"offset":1,"color":"#2C59B6"}]}}},{"transform":[{"filter":"datum.t=='b'"}],"mark":{"type":"errorbar","color":"#7F7F7F","ticks":{"size":5,"color":"#7F7F7F"}},"encoding":{"yError":{"field":"e"}}},{"transform":[{"filter":"datum.t=='s'"}],"mark":{"type":"rule","color":"#000"},"encoding":{"x2":{"field":"s2"}}},{"transform":[{"filter":"datum.t=='s'"},{"fold":["s","s2"],"as":["k","sx"]}],"mark":{"type":"tick","orient":"vertical","size":4,"thickness":1,"yOffset":2,"color":"#000"},"encoding":{"x":{"field":"sx","type":"nominal"}}},{"transform":[{"filter":"datum.t=='s'"}],"mark":{"type":"text","dy":-5,"fontSize":11,"font":"Liberation Serif","fill":"#000","color":"#000"},"encoding":{"x":{"field":"s","type":"nominal","bandPosition":1},"text":{"field":"lab"}}}]}
],
"config":{
"view":{"stroke":"#D9D9D9","discreteWidth":126,"discreteHeight":65,"continuousWidth":126,"continuousHeight":65},
"title":{"anchor":"start","frame":"group","font":"Liberation Serif","fontStyle":"italic","fontSize":13,"fontWeight":"normal","offset":1,"dx":12,"color":"#000"},
"axis":{"labelFont":"Liberation Serif","labelFontWeight":"bold","labelFontSize":8.5,"labelColor":"#000","titleFont":"Liberation Serif","titleFontWeight":"bold","titleFontSize":8.5,"titleColor":"#000","ticks":false,"domain":false,"grid":false},
"axisX":{"labelAngle":0,"labelPadding":4,"labelFontSize":7.5},
"axisY":{"labelPadding":5,"titlePadding":5,"format":"~r"},
"legend":{"orient":"none","legendX":258,"legendY":515,"direction":"horizontal","symbolType":"square","symbolSize":55,"symbolStrokeWidth":0,"labelFont":"Liberation Serif","labelFontSize":16,"labelColor":"#000","columnPadding":36,"labelOffset":3}
}
}
